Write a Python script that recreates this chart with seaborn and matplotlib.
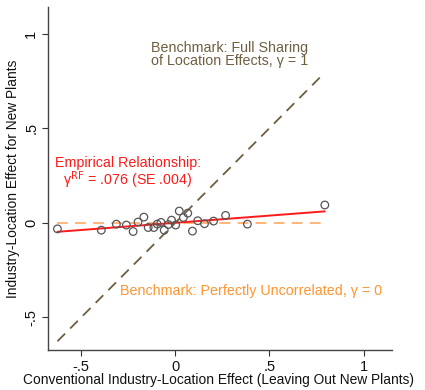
import numpy as np
import pandas as pd
import matplotlib
matplotlib.use("Agg")
import matplotlib.pyplot as plt
import seaborn as sns

# Data
conv_effect = [-0.626, -0.393, -0.313, -0.260, -0.224, -0.198, -0.167, -0.144, -0.114,
               -0.096, -0.076, -0.059, -0.037, -0.020, 0.002, 0.021, 0.043, 0.066,
               0.091, 0.119, 0.155, 0.203, 0.267, 0.383, 0.794]
new_effect = [-0.032, -0.039, -0.007, -0.012, -0.046, 0.004, 0.030, -0.025, -0.025,
              -0.007, 0.002, -0.039, -0.009, 0.014, -0.012, 0.062, 0.028, 0.051,
              -0.044, 0.011, -0.005, 0.009, 0.039, -0.007, 0.094]
fit_slope = 0.076
fit_intercept = 0.0
x_ticks = [-0.5, 0, 0.5, 1]
x_tick_labels = ["-.5", "0", ".5", "1"]
y_ticks = [-0.5, 0, 0.5, 1]
y_tick_labels = ["-.5", "0", ".5", "1"]

sns.set_theme(style="ticks")
plt.rcParams["font.family"] = ["Liberation Sans", "DejaVu Sans"]

df = pd.DataFrame({"x": conv_effect, "y": new_effect})
xmin, xmax = min(conv_effect), max(conv_effect)
line_df = pd.DataFrame({"x": [xmin, xmax]})
line_df["fit"] = fit_intercept + fit_slope * line_df["x"]
line_df["full"] = line_df["x"]
line_df["zero"] = 0.0

fig = plt.figure(figsize=(4.25, 3.9), dpi=100)
ax = fig.add_axes([0.113, 0.1026, 0.809, 0.8794])

brown = "#6e5f40"
orange_line = "#ffb070"
orange_text = "#ff9530"
red = "#ff1a1a"

sns.lineplot(data=line_df, x="x", y="full", ax=ax, color=brown, lw=1.3,
             linestyle=(0, (6, 4)))
sns.lineplot(data=line_df, x="x", y="zero", ax=ax, color=orange_line, lw=1.3,
             linestyle=(0, (6, 4)))
sns.lineplot(data=line_df, x="x", y="fit", ax=ax, color=red, lw=1.4)
sns.scatterplot(data=df, x="x", y="y", ax=ax, facecolor="none", edgecolor="#555555",
                linewidth=0.9, s=30, zorder=5)

ax.set_xlim(-0.676, 1.15)
ax.set_ylim(-0.672, 1.14)
ax.set_xticks(x_ticks)
ax.set_xticklabels(x_tick_labels)
ax.set_yticks(y_ticks)
ax.set_yticklabels(y_tick_labels, rotation=90, va="center")
ax.tick_params(axis="both", labelsize=10.5, length=4, width=0.8, color="#333333",
               labelcolor="#111111", pad=3)
for s in ["top", "right"]:
    ax.spines[s].set_visible(False)
for s in ["left", "bottom"]:
    ax.spines[s].set_color("#444444")
    ax.spines[s].set_linewidth(1.0)

ax.set_xlabel("Conventional Industry-Location Effect (Leaving Out New Plants)",
              fontsize=9.9, color="#111111")
ax.xaxis.set_label_coords(0.497, -0.068)
ax.set_ylabel("Industry-Location Effect for New Plants", fontsize=9.9,
              color="#111111", labelpad=3)

ax.text(0.29, 0.89, "Benchmark: Full Sharing\nof Location Effects, γ = 1",
        ha="center", va="center", color=brown, fontsize=10.3, linespacing=0.95)
ax.text(-0.25, 0.26, "Empirical Relationship:\nγ$^{\\mathrm{RF}}$ = .076 (SE .004)",
        ha="center", va="center", color=red, fontsize=10.3, linespacing=0.95)
ax.text(0.40, -0.36, "Benchmark: Perfectly Uncorrelated, γ = 0",
        ha="center", va="center", color=orange_text, fontsize=10.3)

fig.savefig("out.png", dpi=100)
